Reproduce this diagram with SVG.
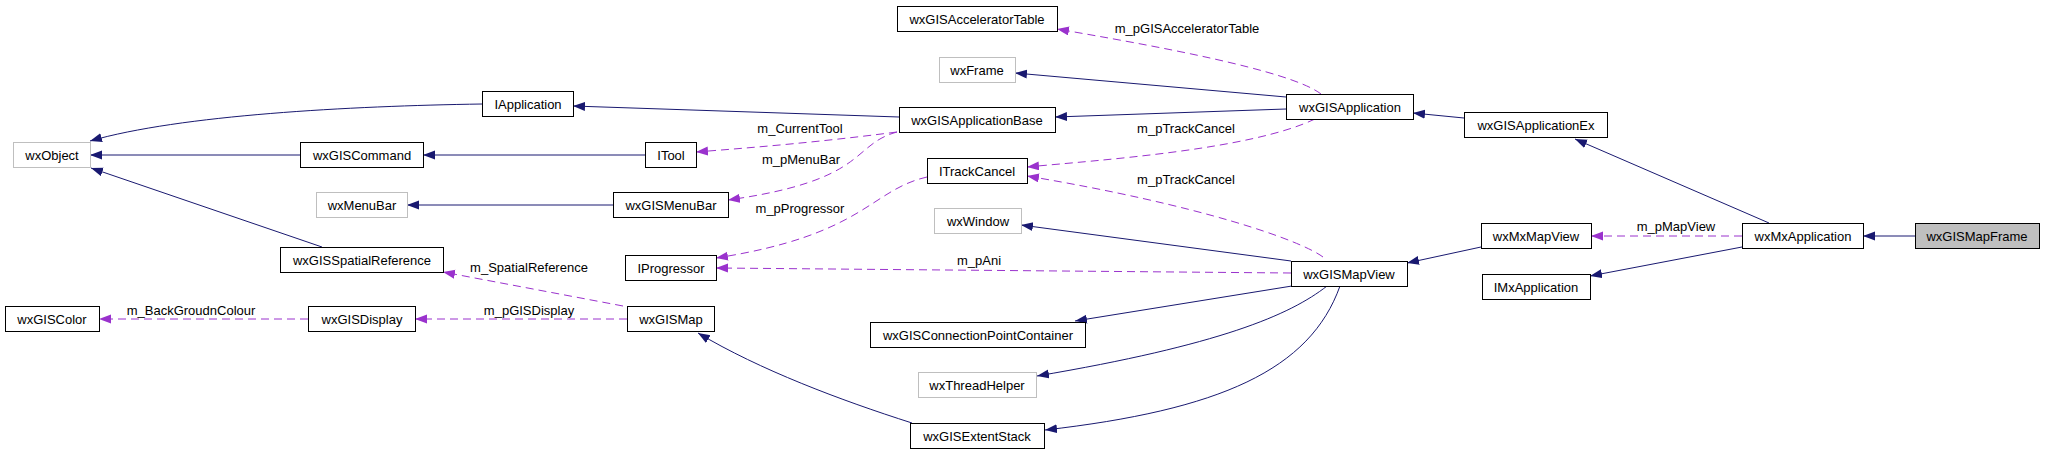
<svg xmlns="http://www.w3.org/2000/svg" width="2045" height="455" viewBox="0 0 2045 455">
<style>
.n rect{fill:#fff;stroke:#000;stroke-width:1}
.n.ext rect{stroke:#bfbfbf}
.n.cur rect{fill:#bfbfbf}
text{font-family:"Liberation Sans",Arial,sans-serif;font-size:13px;fill:#000;text-anchor:middle}
.inh{fill:none;stroke:#191970;stroke-width:1;marker-end:url(#ab)}
.use{fill:none;stroke:#9a32cd;stroke-width:1;stroke-dasharray:8,5;marker-end:url(#ap)}
</style>
<defs>
<marker id="ab" markerUnits="userSpaceOnUse" markerWidth="13" markerHeight="10" refX="12" refY="4.5" orient="auto"><path d="M0,0 L12,4.5 L0,9 z" fill="#191970"/></marker>
<marker id="ap" markerUnits="userSpaceOnUse" markerWidth="13" markerHeight="10" refX="12" refY="4.5" orient="auto"><path d="M0,0 L12,4.5 L0,9 z" fill="#9a32cd"/></marker>
</defs>
<rect width="2045" height="455" fill="#fff"/>
<g id="edges">
<path class="inh" d="M482,104 C350,106 180,115 90,141"/>
<path class="inh" d="M300,155 L90,155"/>
<path class="inh" d="M322,247 L91,168"/>
<path class="inh" d="M899,117 L573,106"/>
<path class="inh" d="M645,155 L423,155"/>
<path class="inh" d="M613,205 L407,205"/>
<path class="inh" d="M1286,97 L1015,73"/>
<path class="inh" d="M1286,109 L1055,117"/>
<path class="inh" d="M1464,118 L1413,113"/>
<path class="inh" d="M1769,223 L1575,139"/>
<path class="inh" d="M1915,236 L1863,236"/>
<path class="inh" d="M1481,247 L1407,263"/>
<path class="inh" d="M1742,247 L1590,276"/>
<path class="inh" d="M1291,261 L1021,225"/>
<path class="inh" d="M1292,286 L1075,321"/>
<path class="inh" d="M1327,286 C1290,315 1220,345 1037,376"/>
<path class="inh" d="M1340,286 C1310,370 1220,410 1045,430"/>
<path class="inh" d="M912,423 C840,400 760,370 698,333"/>
<path class="use" d="M308,319 L99,319"/>
<path class="use" d="M627,319 L415,319"/>
<path class="use" d="M623,306 L443,272"/>
<path class="use" d="M897,132 C820,142 760,147 696,152"/>
<path class="use" d="M897,132 C850,145 870,180 728,200"/>
<path class="use" d="M927,177 C870,190 865,235 716,258"/>
<path class="use" d="M1291,273 L716,268"/>
<path class="use" d="M1315,119 C1250,150 1100,160 1027,167"/>
<path class="use" d="M1323,257 C1300,240 1200,205 1027,176"/>
<path class="use" d="M1321,94 C1290,70 1150,45 1057,29"/>
<path class="use" d="M1742,236 L1591,236"/>
<text x="1187" y="33">m_pGISAcceleratorTable</text>
<text x="800" y="133">m_CurrentTool</text>
<text x="801" y="164">m_pMenuBar</text>
<text x="800" y="213">m_pProgressor</text>
<text x="1186" y="133">m_pTrackCancel</text>
<text x="1186" y="184">m_pTrackCancel</text>
<text x="979" y="265">m_pAni</text>
<text x="529" y="272">m_SpatialReference</text>
<text x="191" y="315">m_BackGroudnColour</text>
<text x="529" y="315">m_pGISDisplay</text>
<text x="1676" y="231">m_pMapView</text>
</g>
<g id="wxGISAcceleratorTable" class="n"><rect x="897.5" y="6.5" width="160" height="25"/><text x="977" y="23.5">wxGISAcceleratorTable</text></g>
<g id="wxFrame" class="n ext"><rect x="939.5" y="57.5" width="76" height="25"/><text x="977" y="74.5">wxFrame</text></g>
<g id="IApplication" class="n"><rect x="482.5" y="91.5" width="91" height="25"/><text x="528" y="108.5">IApplication</text></g>
<g id="wxGISApplicationBase" class="n"><rect x="899.5" y="107.5" width="156" height="25"/><text x="977" y="124.5">wxGISApplicationBase</text></g>
<g id="wxGISApplication" class="n"><rect x="1286.5" y="94.5" width="127" height="25"/><text x="1350" y="111.5">wxGISApplication</text></g>
<g id="wxGISApplicationEx" class="n"><rect x="1464.5" y="112.5" width="143" height="25"/><text x="1536" y="129.5">wxGISApplicationEx</text></g>
<g id="wxObject" class="n ext"><rect x="13.5" y="142.5" width="77" height="25"/><text x="52" y="159.5">wxObject</text></g>
<g id="wxGISCommand" class="n"><rect x="300.5" y="142.5" width="123" height="25"/><text x="362" y="159.5">wxGISCommand</text></g>
<g id="ITool" class="n"><rect x="645.5" y="142.5" width="51" height="25"/><text x="671" y="159.5">ITool</text></g>
<g id="ITrackCancel" class="n"><rect x="927.5" y="158.5" width="100" height="25"/><text x="977" y="175.5">ITrackCancel</text></g>
<g id="wxMenuBar" class="n ext"><rect x="316.5" y="192.5" width="91" height="25"/><text x="362" y="209.5">wxMenuBar</text></g>
<g id="wxGISMenuBar" class="n"><rect x="613.5" y="192.5" width="115" height="25"/><text x="671" y="209.5">wxGISMenuBar</text></g>
<g id="wxWindow" class="n ext"><rect x="934.5" y="208.5" width="87" height="25"/><text x="978" y="225.5">wxWindow</text></g>
<g id="wxMxMapView" class="n"><rect x="1481.5" y="223.5" width="110" height="25"/><text x="1536" y="240.5">wxMxMapView</text></g>
<g id="wxMxApplication" class="n"><rect x="1742.5" y="223.5" width="121" height="25"/><text x="1803" y="240.5">wxMxApplication</text></g>
<g id="wxGISMapFrame" class="n cur"><rect x="1915.5" y="223.5" width="124" height="25"/><text x="1977" y="240.5">wxGISMapFrame</text></g>
<g id="wxGISSpatialReference" class="n"><rect x="280.5" y="247.5" width="163" height="25"/><text x="362" y="264.5">wxGISSpatialReference</text></g>
<g id="IProgressor" class="n"><rect x="625.5" y="255.5" width="91" height="25"/><text x="671" y="272.5">IProgressor</text></g>
<g id="wxGISMapView" class="n"><rect x="1291.5" y="261.5" width="116" height="25"/><text x="1349" y="278.5">wxGISMapView</text></g>
<g id="IMxApplication" class="n"><rect x="1482.5" y="274.5" width="108" height="25"/><text x="1536" y="291.5">IMxApplication</text></g>
<g id="wxGISColor" class="n"><rect x="5.5" y="306.5" width="94" height="25"/><text x="52" y="323.5">wxGISColor</text></g>
<g id="wxGISDisplay" class="n"><rect x="308.5" y="306.5" width="107" height="25"/><text x="362" y="323.5">wxGISDisplay</text></g>
<g id="wxGISMap" class="n"><rect x="627.5" y="306.5" width="87" height="25"/><text x="671" y="323.5">wxGISMap</text></g>
<g id="wxGISConnectionPointContainer" class="n"><rect x="870.5" y="322.5" width="215" height="25"/><text x="978" y="339.5">wxGISConnectionPointContainer</text></g>
<g id="wxThreadHelper" class="n ext"><rect x="918.5" y="372.5" width="118" height="25"/><text x="977" y="389.5">wxThreadHelper</text></g>
<g id="wxGISExtentStack" class="n"><rect x="910.5" y="423.5" width="134" height="25"/><text x="977" y="440.5">wxGISExtentStack</text></g>
</svg>
